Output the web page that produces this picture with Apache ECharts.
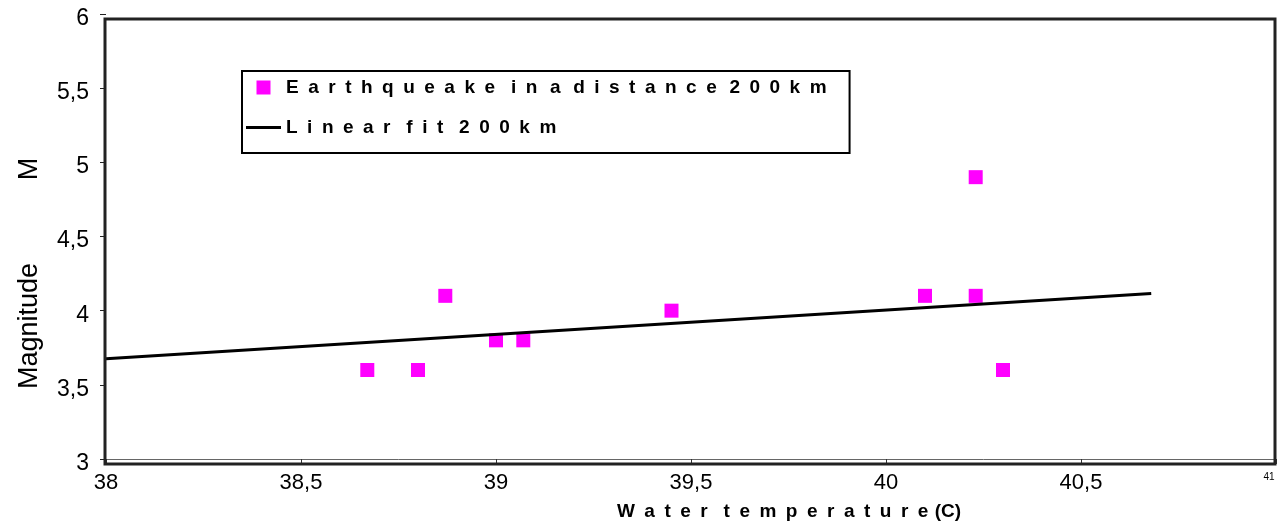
<!DOCTYPE html>
<html>
<head>
<meta charset="utf-8">
<style>
  html, body { margin: 0; padding: 0; background: #fff; }
  #chart-container { width: 1287px; height: 527px; }
</style>
<script src="https://cdn.jsdelivr.net/npm/echarts@6/dist/echarts.min.js"></script>
</head>
<body>
<div id="chart-container"></div>
<script>
// water temperature (C) vs magnitude M
var quakeTemp = [38.67, 38.8, 38.87, 39.0, 39.07, 39.45, 40.1, 40.23, 40.23, 40.3];
var quakeMag  = [3.6,   3.6,  4.1,   3.8,  3.8,   4.0,   4.1,  4.9,   4.1,   3.6];
var fitTemp = [38, 40.68];
var fitMag  = [3.676, 4.115];

// wide letter spacing like the original
function spaced(s, wordGap) {
  return s.split(' ').map(function (w) { return w.split('').join('\u2002'); }).join(wordGap);
}
var quakeName = spaced('Earthqueake', '') + '\u2002\u2004' + spaced('in a distance 200km', '\u2002\u2006');
var fitName = spaced('Linear fit 200km', '\u2002\u2004');

var dom = document.getElementById('chart-container');
var myChart = echarts.init(dom, null, { renderer: 'canvas' });

var option = {
  animation: false,
  backgroundColor: '#fff',
  grid: { left: 106, right: 11, top: 14, bottom: 68, show: false },
  legend: {
    orient: 'vertical',
    left: 242,
    top: 71,
    padding: [7, 23, 16, 4],
    itemGap: 21,
    itemWidth: 35,
    itemHeight: 14,
    borderColor: '#000',
    borderWidth: 2,
    textStyle: { fontFamily: 'Liberation Sans', fontWeight: 'bold', fontSize: 19, color: '#000' },
    data: [
      { name: quakeName, icon: 'path://M0,0h10v10h-10z' },
      { name: fitName, icon: 'path://M0,0h35v3h-35z' }
    ]
  },
  xAxis: {
    type: 'value',
    min: 38, max: 41, interval: 0.5,
    splitLine: { show: false },
    axisLine: { show: true, lineStyle: { color: '#666', width: 1 } },
    axisTick: { show: true, length: 5, lineStyle: { color: '#333' } },
    axisLabel: {
      margin: 13,
      fontFamily: 'Liberation Sans', fontSize: 22, color: '#000',
      formatter: function (v) {
        if (v === 41) return '{s|41}';
        return String(v).replace('.', ',');
      },
      rich: { s: { fontSize: 10, color: '#000', padding: [0, 14, 16, 0] } }
    }
  },
  yAxis: {
    type: 'value',
    min: 3, max: 6, interval: 0.5,
    splitLine: { show: false },
    axisLine: { show: false },
    axisTick: { show: true, length: 6, lineStyle: { color: '#222' } },
    axisLabel: {
      margin: 17,
      formatter: function (v) { return '{n|' + String(v).replace('.', ',') + '}'; },
      rich: { n: { fontFamily: 'Liberation Sans', fontSize: 23, color: '#000', padding: [9, 0, 0, 0] } }
    }
  },
  graphic: [
    { type: 'rect', z: 10, silent: true,
      shape: { x: 105, y: 19, width: 1170, height: 445 },
      style: { fill: 'none', stroke: '#222', lineWidth: 3 } },
    { type: 'text', x: 30, y: 326, rotation: Math.PI / 2,
      style: { text: 'Magnitude', fontFamily: 'Liberation Sans', fontSize: 27, fill: '#000', align: 'center', verticalAlign: 'middle' } },
    { type: 'text', x: 30, y: 169, rotation: Math.PI / 2,
      style: { text: 'M', fontFamily: 'Liberation Sans', fontSize: 27, fill: '#000', align: 'center', verticalAlign: 'middle' } },
    { type: 'text', x: 789, y: 512,
      style: { text: spaced('Water temperature', '\u2002\u2004') + '\u2004(C)', fontFamily: 'Liberation Sans', fontWeight: 'bold', fontSize: 19, fill: '#000', align: 'center', verticalAlign: 'middle' } }
  ],
  series: [
    {
      name: quakeName,
      type: 'scatter',
      symbol: 'rect',
      symbolSize: 14,
      itemStyle: { color: '#ff00ff', opacity: 1 },
      data: quakeTemp.map(function (t, i) { return [t, quakeMag[i]]; }),
      z: 3
    },
    {
      name: fitName,
      type: 'line',
      symbol: 'none',
      itemStyle: { color: '#000' },
      lineStyle: { color: '#000', width: 3 },
      data: fitTemp.map(function (t, i) { return [t, fitMag[i]]; }),
      z: 4
    }
  ]
};

myChart.setOption(option);
window.addEventListener('resize', myChart.resize);
</script>
</body>
</html>
